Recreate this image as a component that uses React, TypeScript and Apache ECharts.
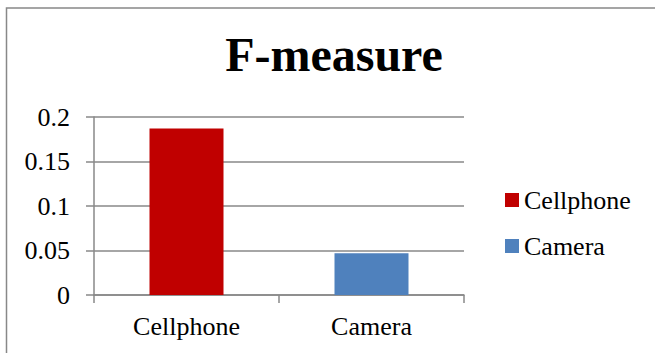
import React, { useEffect, useRef } from "react";
import * as echarts from "echarts";

// Category names and F-measure scores per product domain
const categories = ["Cellphone", "Camera"];
const seriesNames = ["Cellphone", "Camera"];
const cellphoneValues: (number | string)[] = [0.187, "-"];
const cameraValues: (number | string)[] = ["-", 0.047];
const seriesColors = ["#C00000", "#4F81BD"];
const yTicks = { min: 0, max: 0.2, interval: 0.05 };

const FONT = "serif";
const GRID_GRAY = "#888888";

export default function App() {
  const ref = useRef<HTMLDivElement>(null);

  useEffect(() => {
    document.body.style.margin = "0";
    if (!ref.current) return;
    const chart = echarts.init(ref.current, undefined, { renderer: "svg" });
    const values = [cellphoneValues, cameraValues];
    chart.setOption({
      animation: false,
      backgroundColor: "#ffffff",
      title: {
        text: "F-measure",
        left: 329,
        textAlign: "center",
        top: 25,
        textStyle: { fontFamily: FONT, fontWeight: "bold", fontSize: 48, color: "#000000" },
      },
      legend: {
        orient: "vertical",
        left: 500,
        top: 182,
        itemWidth: 14,
        itemHeight: 14,
        itemGap: 20,
        icon: "rect",
        itemTextGap: 5,
        textStyle: { fontFamily: FONT, fontSize: 26, color: "#000000" },
        data: seriesNames,
      },
      graphic: [
        {
          type: "rect",
          shape: { x: 6.5, y: 8, width: 700, height: 400 },
          style: { fill: "none", stroke: GRID_GRAY, lineWidth: 1.5 },
          silent: true,
        },
      ],
      grid: { left: 94, right: 191, top: 117, bottom: 58 },
      xAxis: {
        type: "category",
        data: categories,
        axisLine: { show: true, lineStyle: { color: GRID_GRAY, width: 1.5 } },
        axisTick: { show: true, length: 8, lineStyle: { color: GRID_GRAY, width: 1.5 } },
        axisLabel: { margin: 18, fontFamily: FONT, fontSize: 26, color: "#000000" },
        splitLine: { show: false },
      },
      yAxis: {
        type: "value",
        min: yTicks.min,
        max: yTicks.max,
        interval: yTicks.interval,
        axisLine: { show: true, lineStyle: { color: GRID_GRAY, width: 1.5 } },
        axisTick: { show: true, length: 8, lineStyle: { color: GRID_GRAY, width: 1.5 } },
        axisLabel: {
          margin: 24,
          fontFamily: FONT,
          fontSize: 26,
          color: "#000000",
          formatter: (v: number) => String(parseFloat(v.toFixed(2))),
        },
        splitLine: { show: true, lineStyle: { color: GRID_GRAY, width: 1.5 } },
      },
      series: seriesNames.map((name, i) => ({
        name,
        type: "bar",
        data: values[i],
        barWidth: 74,
        barGap: "-100%",
        itemStyle: { color: seriesColors[i] },
      })),
    });
    return () => chart.dispose();
  }, []);

  return <div ref={ref} style={{ width: 655, height: 353 }} />;
}
